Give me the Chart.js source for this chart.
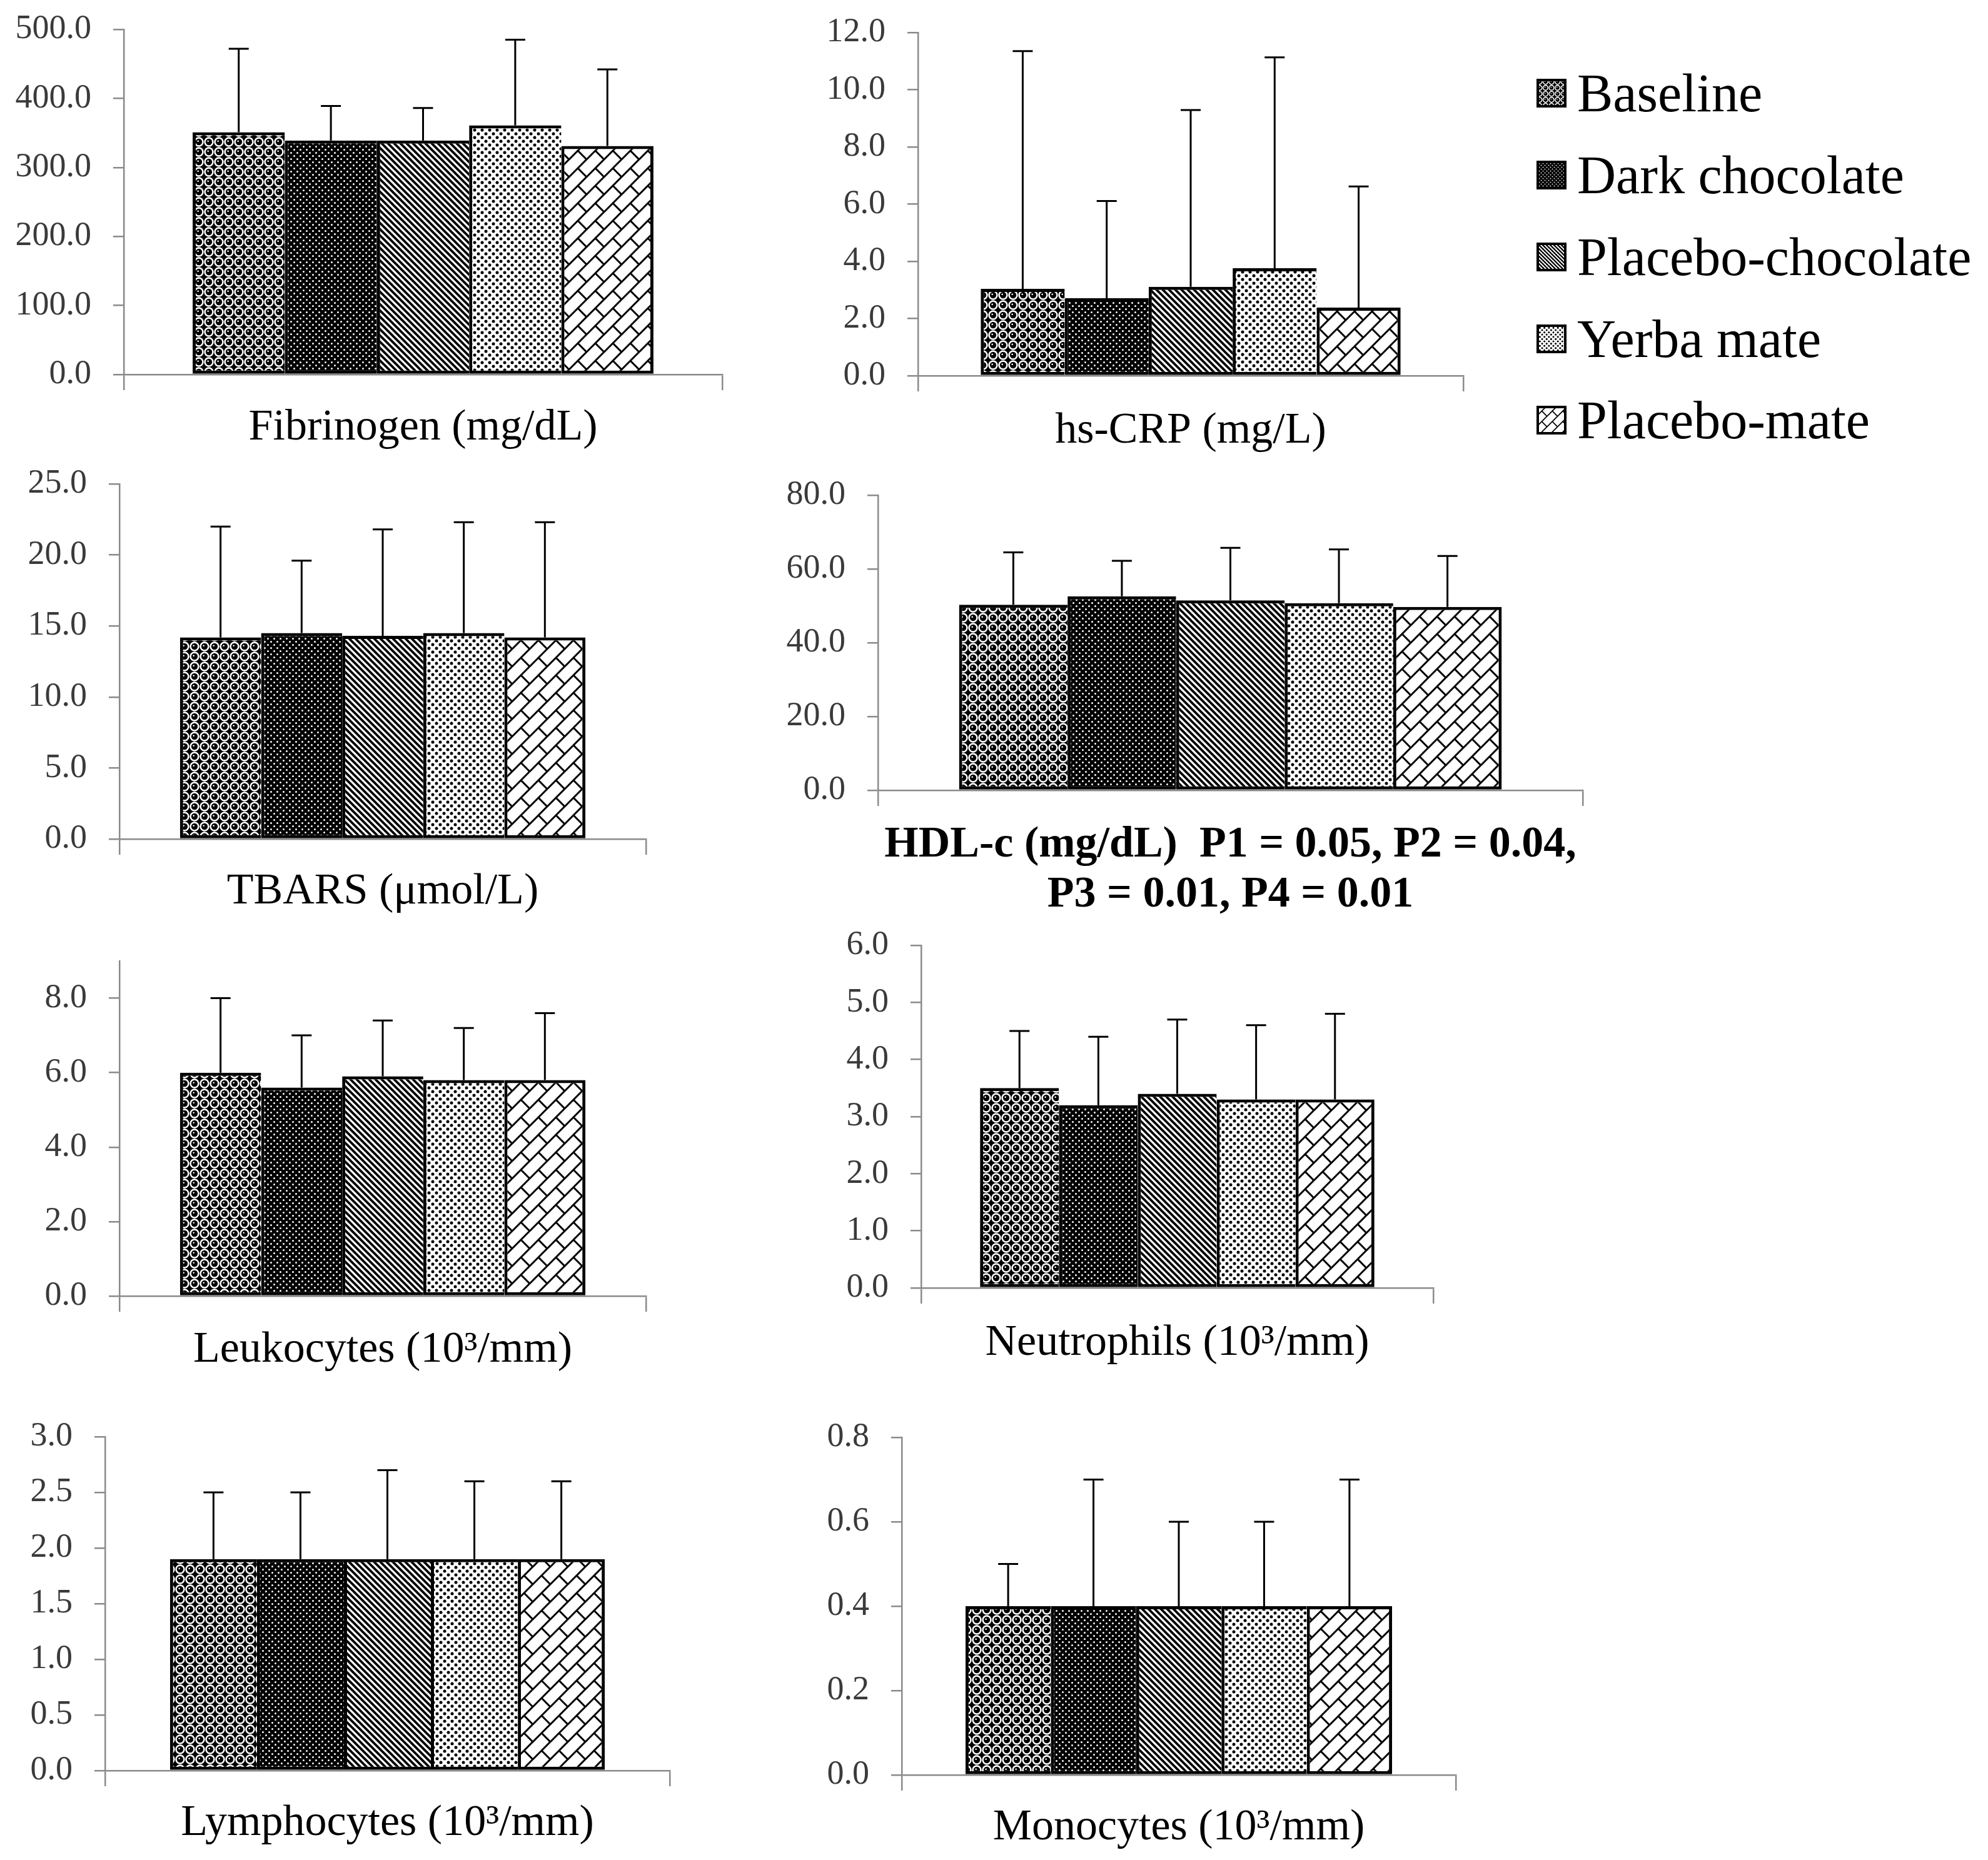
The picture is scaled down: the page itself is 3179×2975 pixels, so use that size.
<!DOCTYPE html>
<html>
<head>
<meta charset="utf-8">
<script src="https://cdn.jsdelivr.net/npm/chart.js@4.4.1/dist/chart.umd.min.js"></script>
<style>
  html, body { margin: 0; padding: 0; background: #fff; }
  body { width: 3179px; height: 2975px; position: relative; overflow: hidden; }
  .panel { position: absolute; }
  #legend { position: absolute; left: 2457px; top: 84px; }
  #legend .item {
    height: 130.75px; display: flex; align-items: center;
    font: 86px "Liberation Serif", "Times New Roman", serif; color: #000; white-space: nowrap;
  }
  #legend canvas { margin-right: 17px; }
</style>
</head>
<body>
<div id="legend"></div>
<script>
// ─── Data ──────────────────────────────────────────
const groups = ['Baseline', 'Dark chocolate', 'Placebo-chocolate', 'Yerba mate', 'Placebo-mate'];

const fibrinogenMean = [351, 339, 339, 361, 331];
const fibrinogenSd   = [121, 50, 47, 124, 111];
const crpMean = [3.04, 2.71, 3.11, 3.76, 2.38];
const crpSd   = [8.31, 3.40, 6.18, 7.37, 4.24];
const tbarsMean = [14.2, 14.5, 14.3, 14.5, 14.2];
const tbarsSd   = [7.8, 5.1, 7.5, 7.8, 8.1];
const hdlMean = [50.3, 52.6, 51.5, 50.7, 49.7];
const hdlSd   = [14.2, 9.6, 14.2, 14.6, 13.8];
const leukoMean = [6.0, 5.6, 5.9, 5.8, 5.8];
const leukoSd   = [2.0, 1.4, 1.5, 1.4, 1.8];
const neutroMean = [3.5, 3.2, 3.4, 3.3, 3.3];
const neutroSd   = [1.0, 1.2, 1.3, 1.3, 1.5];
const lymphoMean = [1.9, 1.9, 1.9, 1.9, 1.9];
const lymphoSd   = [0.6, 0.6, 0.8, 0.7, 0.7];
const monoMean = [0.4, 0.4, 0.4, 0.4, 0.4];
const monoSd   = [0.1, 0.3, 0.2, 0.2, 0.3];

const panelLabels = [
  'Fibrinogen (mg/dL)', 'hs-CRP (mg/L)', 'TBARS (μmol/L)',
  ['HDL-c (mg/dL)  P1 = 0.05, P2 = 0.04,', 'P3 = 0.01, P4 = 0.01'],
  'Leukocytes (10³/mm)', 'Neutrophils (10³/mm)', 'Lymphocytes (10³/mm)', 'Monocytes (10³/mm)'
];
const axisMax  = [500, 12, 25, 80, 9, 6, 3, 0.8];
const axisStep = [100, 2, 5, 20, 2, 1, 0.5, 0.2];

// ─── Layout (page pixels: y-axis x, max-value y, zero y, axis end x) ──
const LAYOUT = [
  { x: 198,  top: 47,   zero: 599,  right: 1155, gap: 21 },
  { x: 1468, top: 52,   zero: 601,  right: 2340, gap: 24 },
  { x: 191,  top: 774,  zero: 1342, right: 1033, gap: 20 },
  { x: 1404, top: 792,  zero: 1264, right: 2531, gap: 23, bold: true },
  { x: 191,  top: 1537, zero: 2073, right: 1033, gap: 22 },
  { x: 1473, top: 1512, zero: 2060, right: 2292, gap: 24 },
  { x: 168,  top: 2298, zero: 2832, right: 1071, gap: 20 },
  { x: 1442, top: 2299, zero: 2839, right: 2328, gap: 20 }
];
// y-axis width, top padding (must exceed tick padding + half label), right padding, x-axis height
const YW = 240, PT = 100, PR = 40, XH = 240;
const AXIS = '#8a8a8a', TICK = '#3a3a3a';
const SERIF = '"Liberation Serif", "Times New Roman", serif';

// ─── Fill patterns ─────────────────────────────────
function circle(g, x, y, r) { g.beginPath(); g.arc(x, y, r, 0, Math.PI * 2); g.fill(); }
function tile(size, draw) {
  const c = document.createElement('canvas');
  c.width = c.height = size;
  draw(c.getContext('2d'), size);
  return c;
}
const tiles = [
  // spheres
  tile(16, (g, s) => {
    g.fillStyle = '#000'; g.fillRect(0, 0, s, s);
    g.fillStyle = '#fff'; circle(g, 8, 8, 7.7);
    g.fillStyle = '#000'; circle(g, 8, 8, 5.2);
    g.fillStyle = '#fff'; circle(g, 6.7, 6.7, 1.3);
  }),
  // white dots on black
  tile(10, (g, s) => {
    g.fillStyle = '#000'; g.fillRect(0, 0, s, s);
    g.fillStyle = '#fff'; circle(g, 2.5, 2.5, 1.5); circle(g, 7.5, 7.5, 1.5);
  }),
  // wide downward diagonal
  tile(10, (g, s) => {
    g.fillStyle = '#fff'; g.fillRect(0, 0, s, s);
    g.strokeStyle = '#000'; g.lineWidth = 3.8;
    g.beginPath();
    g.moveTo(-2, -2); g.lineTo(12, 12);
    g.moveTo(8, -2); g.lineTo(12, 2);
    g.moveTo(-2, 8); g.lineTo(2, 12);
    g.stroke();
  }),
  // black dots on white
  tile(12, (g, s) => {
    g.fillStyle = '#fff'; g.fillRect(0, 0, s, s);
    g.fillStyle = '#000'; circle(g, 3, 3, 2.5); circle(g, 9, 9, 2.5);
  }),
  // diagonal brick
  tile(28, (g, s) => {
    g.fillStyle = '#fff'; g.fillRect(0, 0, s, s);
    g.strokeStyle = '#000'; g.lineWidth = 3;
    g.beginPath();
    g.moveTo(-2, s + 2); g.lineTo(s + 2, -2);
    g.moveTo(-2, 2); g.lineTo(2, -2);
    g.moveTo(s - 2, s + 2); g.lineTo(s + 2, s - 2);
    g.moveTo(s / 2, s / 2); g.lineTo(s, s);
    g.stroke();
  })
];

// ─── Error bars (upper SD only) ────────────────────
const errorBars = {
  id: 'errorBars',
  afterDatasetsDraw(chart) {
    const { ctx, scales: { y } } = chart;
    ctx.save();
    ctx.strokeStyle = '#000';
    ctx.lineWidth = 3;
    chart.data.datasets.forEach((ds, i) => {
      chart.getDatasetMeta(i).data.forEach((bar, j) => {
        const y0 = y.getPixelForValue(ds.data[j]);
        const y1 = y.getPixelForValue(ds.data[j] + ds.errors[j]);
        ctx.beginPath();
        ctx.moveTo(bar.x, y0); ctx.lineTo(bar.x, y1);
        ctx.moveTo(bar.x - 16, y1); ctx.lineTo(bar.x + 16, y1);
        ctx.stroke();
      });
    });
    ctx.restore();
  }
};

// ─── Panels ────────────────────────────────────────
function makeChart(k, means, sds) {
  const L = LAYOUT[k];
  const w = YW + (L.right - L.x) + PR;
  const h = PT + (L.zero - L.top) + XH;
  const box = document.createElement('div');
  box.className = 'panel';
  box.style.left = (L.x - YW) + 'px';
  box.style.top = (L.top - PT) + 'px';
  box.style.width = w + 'px';
  box.style.height = h + 'px';
  const cv = document.createElement('canvas');
  cv.width = w; cv.height = h;
  box.appendChild(cv);
  document.body.appendChild(box);

  const ctx = cv.getContext('2d');
  const patterns = tiles.map(t => ctx.createPattern(t, 'repeat'));

  return new Chart(cv, {
    type: 'bar',
    data: {
      labels: [panelLabels[k]],
      datasets: groups.map((g, i) => ({
        label: g,
        data: [means[i]],
        errors: [sds[i]],
        backgroundColor: patterns[i],
        borderColor: '#000',
        borderWidth: { top: 5, bottom: 5, left: 5, right: i === groups.length - 1 ? 5 : 0 },
        borderSkipped: false,
        categoryPercentage: 0.77,
        barPercentage: 1
      }))
    },
    options: {
      responsive: false, animation: false, devicePixelRatio: 1,
      layout: { padding: { top: PT, right: PR, left: 0, bottom: 0 } },
      plugins: { legend: { display: false }, tooltip: { enabled: false } },
      scales: {
        x: {
          offset: true,
          grid: { drawOnChartArea: false, drawTicks: true, tickLength: 25, color: AXIS, lineWidth: 2.5, offset: true },
          border: { display: true, color: AXIS, width: 2.5 },
          ticks: {
            color: '#000', padding: L.gap, maxRotation: 0, autoSkip: false,
            font: { family: SERIF, size: 70, weight: L.bold ? 'bold' : 'normal', lineHeight: 1.14 }
          },
          afterFit: s => { s.height = XH; }
        },
        y: {
          min: 0, max: axisMax[k],
          grid: { drawOnChartArea: false, tickLength: 17, color: AXIS, lineWidth: 2.5 },
          border: { display: true, color: AXIS, width: 2.5 },
          ticks: {
            stepSize: axisStep[k], includeBounds: false, padding: 35, color: TICK,
            font: { family: SERIF, size: 54 },
            callback: v => Number(v).toFixed(1)
          },
          afterFit: s => { s.width = YW; }
        }
      }
    },
    plugins: [errorBars]
  });
}

// ─── Legend (built from the chart's legend items) ──
function buildLegend(chart) {
  const el = document.getElementById('legend');
  const items = Chart.defaults.plugins.legend.labels.generateLabels(chart);
  items.forEach(item => {
    const row = document.createElement('div');
    row.className = 'item';
    const sw = document.createElement('canvas');
    sw.width = 48; sw.height = 46;
    const g = sw.getContext('2d');
    const p = g.createPattern(tiles[item.datasetIndex], 'repeat');
    p.setTransform(new DOMMatrix().scale(0.6));
    g.fillStyle = p;
    g.fillRect(0, 0, 48, 46);
    g.strokeStyle = '#000'; g.lineWidth = 4;
    g.strokeRect(2, 2, 44, 42);
    row.appendChild(sw);
    row.appendChild(document.createTextNode(item.text));
    el.appendChild(row);
  });
}

makeChart(0, fibrinogenMean, fibrinogenSd);
const crpChart = makeChart(1, crpMean, crpSd);
makeChart(2, tbarsMean, tbarsSd);
makeChart(3, hdlMean, hdlSd);
makeChart(4, leukoMean, leukoSd);
makeChart(5, neutroMean, neutroSd);
makeChart(6, lymphoMean, lymphoSd);
makeChart(7, monoMean, monoSd);
buildLegend(crpChart);
</script>
</body>
</html>
